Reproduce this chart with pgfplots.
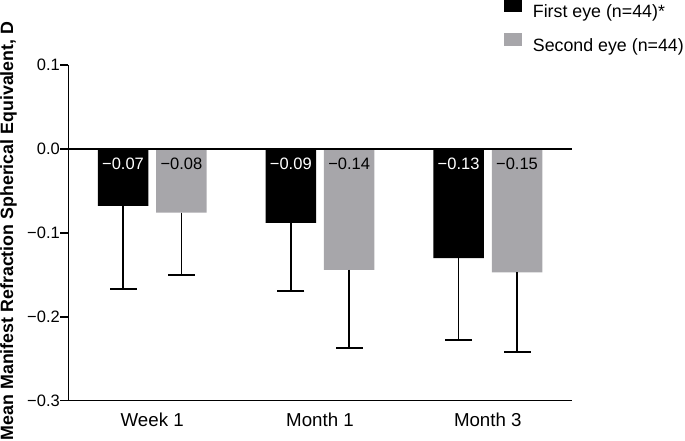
\documentclass[border=0pt]{standalone}
\usepackage{pgfplots}
\pgfplotsset{compat=1.18}
\usepackage{fontspec}
\setmainfont{Liberation Sans}
\definecolor{bargray}{RGB}{167,166,170}
\begin{document}
\begin{tikzpicture}
\begin{axis}[
  at={(0pt,0pt)}, anchor=south west,
  scale only axis, width=503.4pt, height=335.7pt,
  xmin=-0.5, xmax=2.5, ymin=-0.3, ymax=0.1,
  axis lines*=left,
  axis line style={line width=1.5pt, black},
  xtick={0,1,2}, xticklabels={Week 1, Month 1, Month 3},
  ytick={-0.3,-0.2,-0.1,0,0.1}, yticklabels={−0.3,−0.2,−0.1,0.0,0.1},
  tick align=outside, major tick length=8pt,
  ytick style={line width=1.5pt, black},
  xtick style={draw=none},
  yticklabel style={font=\fontsize{16.5}{19}\selectfont, inner xsep=0.3pt},
  xticklabel style={font=\fontsize{18.7}{21}\selectfont, inner ysep=4pt},
  ylabel={Mean Manifest Refraction Spherical Equivalent, D},
  ylabel style={font=\bfseries\fontsize{17.8}{21}\selectfont, at={(axis description cs:-0.1357,0.506)}, anchor=north, inner sep=0pt},
  legend style={at={(axis description cs:0.8655,1.198)}, anchor=north west, draw=none, fill=none, inner sep=0pt, font=\fontsize{17.8}{21}\selectfont, row sep=13.5pt, nodes={inner sep=0pt}, /tikz/every odd column/.style={column sep=11pt}},
  legend cell align=left,
  legend image code/.code={\fill[#1] (0pt,0pt) rectangle (17.7pt,13.3pt);},
  error bars/y dir=minus, error bars/y explicit,
  error bars/error bar style={line width=1.5pt, black},
  error bars/error mark options={line width=1.5pt, black, mark size=13.5pt, rotate=90},
  clip=false,
]
% First eye
\addplot[ybar, bar width=50.5pt, bar shift=0pt, fill=black, draw=none]
  table[x=x, y=y, y error=e] {
x y e
-0.174 -0.068 0.099
0.826 -0.088 0.081
1.826 -0.130 0.0976
};
\addlegendentry{First eye (n=44)*}
% Second eye
\addplot[ybar, bar width=50.5pt, bar shift=0pt, fill=bargray, draw=none]
  table[x=x, y=y, y error=e] {
x y e
0.174 -0.076 0.074
1.174 -0.144 0.0935
2.174 -0.147 0.095
};
\addlegendentry{Second eye (n=44)}
% value labels
\addplot[ybar, bar width=50.5pt, bar shift=0pt, draw=none, fill=none, forget plot,
  nodes near coords, point meta=explicit symbolic,
  every node near coord/.append style={anchor=north, yshift=-9.3pt, inner sep=0pt, text=white, font=\fontsize{16.5}{19}\selectfont}]
  table[x=x, y=y, meta=lab] {
x y lab
-0.174 0 −0.07
0.826 0 −0.09
1.826 0 −0.13
};
\addplot[ybar, bar width=50.5pt, bar shift=0pt, draw=none, fill=none, forget plot,
  nodes near coords, point meta=explicit symbolic,
  every node near coord/.append style={anchor=north, yshift=-9.3pt, inner sep=0pt, text=black, font=\fontsize{16.5}{19}\selectfont}]
  table[x=x, y=y, meta=lab] {
x y lab
0.174 0 −0.08
1.174 0 −0.14
2.174 0 −0.15
};
% zero line
\addplot[sharp plot, black, line width=1.5pt, forget plot] coordinates {(-0.5,0) (2.5,0)};
\end{axis}
\pgfresetboundingbox
\useasboundingbox (-68.3pt,-40.3pt) rectangle (616.7pt,400.7pt);
\end{tikzpicture}
\end{document}
